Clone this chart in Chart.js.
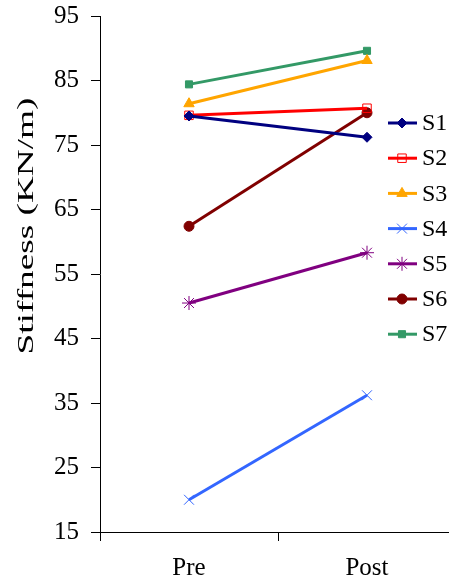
<!DOCTYPE html>
<html>
<head>
<meta charset="utf-8">
<script src="https://cdn.jsdelivr.net/npm/chart.js@4/dist/chart.umd.min.js"></script>
<style>
html, body { margin: 0; padding: 0; background: #fff; overflow: hidden; }
#wrap { width: 464px; height: 584px; }
</style>
</head>
<body>
<div id="wrap"><canvas id="chart"></canvas></div>
<script>
'use strict'
// данные
const categories = ["Pre", "Post"];
const seriesNames = ["S1", "S2", "S3", "S4", "S5", "S6", "S7"];
const s1 = [79.5, 76.2];
const s2 = [79.6, 80.7];
const s3 = [81.4, 88.1];
const s4 = [20.0, 36.2];
const s5 = [50.5, 58.3];
const s6 = [62.4, 80.0];
const s7 = [84.4, 89.6];
const yTicks = [15, 25, 35, 45, 55, 65, 75, 85, 95];
const yTitle = "Stiffness (KN/m)";

const FONT = "'Liberation Serif', 'Times New Roman', serif";

const styles = [
	{color: "#000080", point: "rectRot", radius: 5, fill: "#000080", bw: 1},
	{color: "#FF0000", point: "rect", radius: 6, fill: "rgba(0,0,0,0)", bw: 1},
	{color: "#FFA500", point: "triangle", radius: 6, fill: "#FFA500", bw: 1},
	{color: "#3366FF", point: "crossRot", radius: 7, fill: "#3366FF", bw: 1},
	{color: "#800080", point: "star", radius: 7, fill: "#800080", bw: 1},
	{color: "#800000", point: "circle", radius: 5, fill: "#800000", bw: 1},
	{color: "#339966", point: "rect", radius: 5, fill: "#339966", bw: 1}
];
const values = [s1, s2, s3, s4, s5, s6, s7];

let datasets = seriesNames.map((name, i) => ({
	label: name,
	data: values[i],
	borderColor: styles[i].color,
	backgroundColor: styles[i].fill,
	borderWidth: 3,
	pointStyle: styles[i].point,
	pointRadius: styles[i].radius,
	pointBorderWidth: styles[i].bw,
	pointBorderColor: styles[i].color,
	pointBackgroundColor: styles[i].fill,
	tension: 0
}));

// легенда и подпись оси рисуем сами
const customDraw = {
	id: "customDraw",
	afterDraw(chart) {
		let ctx = chart.ctx;
		ctx.save();
		ctx.font = "24px " + FONT;
		ctx.textBaseline = "middle";
		for (let i = 0; i < datasets.length; i++) {
			let y = 123 + i * 35.2;
			let st = styles[i];
			ctx.strokeStyle = st.color;
			ctx.lineWidth = 3;
			ctx.beginPath();
			ctx.moveTo(388, y);
			ctx.lineTo(417, y);
			ctx.stroke();
			ctx.fillStyle = st.fill;
			ctx.lineWidth = st.bw;
			Chart.helpers.drawPoint(ctx, {pointStyle: st.point, radius: st.radius, rotation: 0, borderWidth: st.bw}, 402, y);
			ctx.fillStyle = "#000";
			ctx.textAlign = "left";
			ctx.fillText(datasets[i].label, 422, y + 1);
		}
		// подпись оси Y растянута по длине, как в оригинале
		ctx.font = "24px " + FONT;
		ctx.textBaseline = "alphabetic";
		ctx.textAlign = "center";
		let w = ctx.measureText(yTitle).width;
		ctx.translate(33, 226);
		ctx.rotate(-Math.PI / 2);
		ctx.scale(257 / w, 1);
		ctx.fillText(yTitle, 0, 0);
		ctx.restore();
	}
};

let ctx = document.getElementById("chart").getContext("2d");
let chart = new Chart(ctx, {
	type: "line",
	data: { labels: categories, datasets: datasets },
	options: {
		responsive: true,
		maintainAspectRatio: false,
		animation: false,
		events: [],
		layout: { padding: { top: 16, right: 4, left: 0, bottom: 0 } },
		plugins: { legend: { display: false }, tooltip: { enabled: false } },
		scales: {
			x: {
				offset: true,
				grid: { display: true, offset: true, drawOnChartArea: false, color: "#000", tickLength: 9, tickWidth: 1 },
				border: { color: "#000", width: 1 },
				ticks: { color: "#000", font: { family: FONT, size: 25 }, padding: 12 },
				afterFit: scale => { scale.height = 52; scale.paddingLeft = 0; scale.paddingRight = 0; }
			},
			y: {
				min: 15,
				max: 95,
				afterBuildTicks: scale => { scale.ticks = yTicks.map(v => ({value: v})); },
				grid: { display: true, drawOnChartArea: false, color: "#000", tickLength: 9, tickWidth: 1 },
				border: { color: "#000", width: 1 },
				ticks: { color: "#000", font: { family: FONT, size: 25 }, padding: 12 },
				afterFit: scale => { scale.width = 100; scale.paddingTop = 0; scale.paddingBottom = 0; }
			}
		}
	},
	plugins: [customDraw]
});
</script>
</body>
</html>
